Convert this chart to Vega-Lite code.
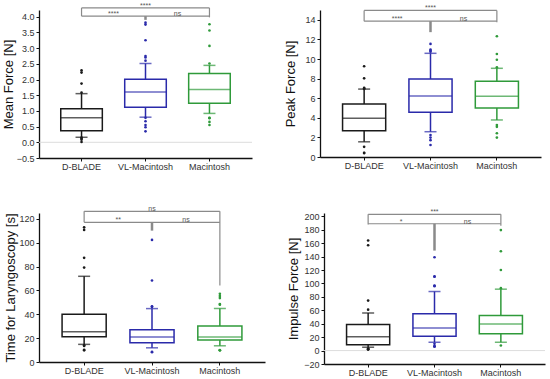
{
  "$schema": "https://vega.github.io/schema/vega-lite/v6.json",
  "padding": {"left": 2, "top": 1, "right": 2, "bottom": 2},
  "background": "white",
  "datasets": {
    "mean_box": [
      {"group": "D-BLADE", "wlo": 0.16, "q1": 0.37, "median": 0.78, "q3": 1.07, "whi": 1.55},
      {"group": "VL-Macintosh", "wlo": 0.80, "q1": 1.12, "median": 1.60, "q3": 2.01, "whi": 2.51},
      {"group": "Macintosh", "wlo": 0.92, "q1": 1.24, "median": 1.68, "q3": 2.19, "whi": 2.45}
    ],
    "mean_out": [
      {"group": "D-BLADE", "value": 2.29}, {"group": "D-BLADE", "value": 2.22}, {"group": "D-BLADE", "value": 1.87}, {"group": "D-BLADE", "value": 1.58},
      {"group": "D-BLADE", "value": 0.15}, {"group": "D-BLADE", "value": 0.12}, {"group": "D-BLADE", "value": 0.08}, {"group": "D-BLADE", "value": 0.01},
      {"group": "VL-Macintosh", "value": 3.81}, {"group": "VL-Macintosh", "value": 3.75}, {"group": "VL-Macintosh", "value": 3.25}, {"group": "VL-Macintosh", "value": 2.75},
      {"group": "VL-Macintosh", "value": 2.70}, {"group": "VL-Macintosh", "value": 2.60}, {"group": "VL-Macintosh", "value": 0.78}, {"group": "VL-Macintosh", "value": 0.67},
      {"group": "VL-Macintosh", "value": 0.55}, {"group": "VL-Macintosh", "value": 0.48}, {"group": "VL-Macintosh", "value": 0.35},
      {"group": "Macintosh", "value": 3.76}, {"group": "Macintosh", "value": 3.56}, {"group": "Macintosh", "value": 3.07}, {"group": "Macintosh", "value": 2.51},
      {"group": "Macintosh", "value": 0.78}, {"group": "Macintosh", "value": 0.77}, {"group": "Macintosh", "value": 0.65}, {"group": "Macintosh", "value": 0.55}
    ],
    "mean_br": [
      {"from": "D-BLADE", "to": "Macintosh", "lo": 4.28, "hi": 4.28, "part": "bar"},
      {"from": "D-BLADE", "to": "Macintosh", "lo": 4.02, "hi": 4.02, "part": "bar"},
      {"from": "D-BLADE", "to": "D-BLADE", "lo": 4.02, "hi": 4.28, "part": "bar"},
      {"from": "Macintosh", "to": "Macintosh", "lo": 3.98, "hi": 4.28, "part": "bar"},
      {"from": "VL-Macintosh", "to": "VL-Macintosh", "lo": 3.90, "hi": 4.02, "part": "drop"}
    ],
    "mean_sig": [
      {"label": "****", "at": "VL-Macintosh", "y": 4.28, "pos": "top"},
      {"label": "****", "at": "D-BLADE", "y": 4.02, "pos": "pair"},
      {"label": "ns", "at": "VL-Macintosh", "y": 4.02, "pos": "pair"}
    ],
    "peak_box": [
      {"group": "D-BLADE", "wlo": 1.55, "q1": 2.68, "median": 3.95, "q3": 5.42, "whi": 6.93},
      {"group": "VL-Macintosh", "wlo": 2.58, "q1": 4.56, "median": 6.23, "q3": 7.97, "whi": 10.58},
      {"group": "Macintosh", "wlo": 3.78, "q1": 5.0, "median": 6.2, "q3": 7.73, "whi": 9.05}
    ],
    "peak_out": [
      {"group": "D-BLADE", "value": 9.26}, {"group": "D-BLADE", "value": 8.03}, {"group": "D-BLADE", "value": 7.05}, {"group": "D-BLADE", "value": 6.95},
      {"group": "D-BLADE", "value": 7.0}, {"group": "D-BLADE", "value": 1.04}, {"group": "D-BLADE", "value": 0.42}, {"group": "D-BLADE", "value": 0.40},
      {"group": "VL-Macintosh", "value": 11.54}, {"group": "VL-Macintosh", "value": 10.95}, {"group": "VL-Macintosh", "value": 10.85}, {"group": "VL-Macintosh", "value": 10.75},
      {"group": "VL-Macintosh", "value": 2.25}, {"group": "VL-Macintosh", "value": 1.98}, {"group": "VL-Macintosh", "value": 1.72}, {"group": "VL-Macintosh", "value": 1.22},
      {"group": "Macintosh", "value": 12.32}, {"group": "Macintosh", "value": 10.51}, {"group": "Macintosh", "value": 9.92}, {"group": "Macintosh", "value": 9.15},
      {"group": "Macintosh", "value": 3.26}, {"group": "Macintosh", "value": 3.08}, {"group": "Macintosh", "value": 2.42}, {"group": "Macintosh", "value": 1.98}
    ],
    "peak_br": [
      {"from": "D-BLADE", "to": "Macintosh", "lo": 14.96, "hi": 14.96, "part": "bar"},
      {"from": "D-BLADE", "to": "Macintosh", "lo": 13.86, "hi": 13.86, "part": "bar"},
      {"from": "D-BLADE", "to": "D-BLADE", "lo": 13.86, "hi": 14.96, "part": "bar"},
      {"from": "Macintosh", "to": "Macintosh", "lo": 13.76, "hi": 14.96, "part": "bar"},
      {"from": "VL-Macintosh", "to": "VL-Macintosh", "lo": 12.74, "hi": 13.86, "part": "drop"}
    ],
    "peak_sig": [
      {"label": "****", "at": "VL-Macintosh", "y": 14.96, "pos": "top"},
      {"label": "****", "at": "D-BLADE", "y": 13.86, "pos": "pair"},
      {"label": "ns", "at": "VL-Macintosh", "y": 13.86, "pos": "pair"}
    ],
    "time_box": [
      {"group": "D-BLADE", "wlo": 14.8, "q1": 21.2, "median": 25.4, "q3": 40.0, "whi": 71.9},
      {"group": "VL-Macintosh", "wlo": 11.9, "q1": 16.1, "median": 20.9, "q3": 27.1, "whi": 44.8},
      {"group": "Macintosh", "wlo": 13.6, "q1": 18.4, "median": 21.0, "q3": 30.3, "whi": 44.9}
    ],
    "time_out": [
      {"group": "D-BLADE", "value": 113}, {"group": "D-BLADE", "value": 110.8}, {"group": "D-BLADE", "value": 87.4}, {"group": "D-BLADE", "value": 79.2},
      {"group": "D-BLADE", "value": 14.0}, {"group": "D-BLADE", "value": 13.5}, {"group": "D-BLADE", "value": 10.2}, {"group": "D-BLADE", "value": 9.8},
      {"group": "VL-Macintosh", "value": 102.4}, {"group": "VL-Macintosh", "value": 68.4}, {"group": "VL-Macintosh", "value": 46.8}, {"group": "VL-Macintosh", "value": 46.2},
      {"group": "VL-Macintosh", "value": 8.6}, {"group": "VL-Macintosh", "value": 8.2},
      {"group": "Macintosh", "value": 57.2}, {"group": "Macintosh", "value": 55.3}, {"group": "Macintosh", "value": 53.6}, {"group": "Macintosh", "value": 48.6},
      {"group": "Macintosh", "value": 48.1}, {"group": "Macintosh", "value": 10.0}, {"group": "Macintosh", "value": 9.9}, {"group": "Macintosh", "value": 9.8}
    ],
    "time_br": [
      {"from": "D-BLADE", "to": "Macintosh", "lo": 126.4, "hi": 126.4, "part": "bar"},
      {"from": "D-BLADE", "to": "Macintosh", "lo": 117.2, "hi": 117.2, "part": "bar"},
      {"from": "D-BLADE", "to": "D-BLADE", "lo": 117.2, "hi": 126.4, "part": "bar"},
      {"from": "Macintosh", "to": "Macintosh", "lo": 64.1, "hi": 126.4, "part": "bar"},
      {"from": "VL-Macintosh", "to": "VL-Macintosh", "lo": 110.2, "hi": 117.2, "part": "drop"}
    ],
    "time_sig": [
      {"label": "ns", "at": "VL-Macintosh", "y": 126.4, "pos": "top"},
      {"label": "**", "at": "D-BLADE", "y": 117.2, "pos": "pair"},
      {"label": "ns", "at": "VL-Macintosh", "y": 117.2, "pos": "pair"}
    ],
    "imp_box": [
      {"group": "D-BLADE", "wlo": 5, "q1": 8.5, "median": 20.6, "q3": 38.8, "whi": 56},
      {"group": "VL-Macintosh", "wlo": 12.4, "q1": 21.2, "median": 33.5, "q3": 54.8, "whi": 88},
      {"group": "Macintosh", "wlo": 12.4, "q1": 24.9, "median": 39.5, "q3": 52.3, "whi": 91.5}
    ],
    "imp_out": [
      {"group": "D-BLADE", "value": 164}, {"group": "D-BLADE", "value": 157}, {"group": "D-BLADE", "value": 74.5}, {"group": "D-BLADE", "value": 61},
      {"group": "D-BLADE", "value": 3.0}, {"group": "D-BLADE", "value": 2.5}, {"group": "D-BLADE", "value": 2.0}, {"group": "D-BLADE", "value": 1.5},
      {"group": "VL-Macintosh", "value": 139}, {"group": "VL-Macintosh", "value": 110.5}, {"group": "VL-Macintosh", "value": 110}, {"group": "VL-Macintosh", "value": 97},
      {"group": "VL-Macintosh", "value": 96}, {"group": "VL-Macintosh", "value": 10}, {"group": "VL-Macintosh", "value": 6.5}, {"group": "VL-Macintosh", "value": 6.2},
      {"group": "VL-Macintosh", "value": 6},
      {"group": "Macintosh", "value": 179.5}, {"group": "Macintosh", "value": 148}, {"group": "Macintosh", "value": 120}, {"group": "Macintosh", "value": 93},
      {"group": "Macintosh", "value": 7.5}
    ],
    "imp_br": [
      {"from": "D-BLADE", "to": "Macintosh", "lo": 203, "hi": 203, "part": "bar"},
      {"from": "D-BLADE", "to": "Macintosh", "lo": 189, "hi": 189, "part": "bar"},
      {"from": "D-BLADE", "to": "D-BLADE", "lo": 188, "hi": 203, "part": "bar"},
      {"from": "Macintosh", "to": "Macintosh", "lo": 186, "hi": 203, "part": "bar"},
      {"from": "VL-Macintosh", "to": "VL-Macintosh", "lo": 149, "hi": 189, "part": "drop"}
    ],
    "imp_sig": [
      {"label": "***", "at": "VL-Macintosh", "y": 203, "pos": "top"},
      {"label": "*", "at": "D-BLADE", "y": 189, "pos": "pair"},
      {"label": "ns", "at": "VL-Macintosh", "y": 189, "pos": "pair"}
    ],
    "zero": [{"z": 0}]
  },
  "config": {
    "view": {"stroke": null},
    "font": "Arial, Liberation Sans",
    "axis": {
      "labelFont": "Arial, Liberation Sans",
      "titleFont": "Arial, Liberation Sans",
      "labelColor": "#333333",
      "labelFontSize": 9,
      "titleFontSize": 13,
      "titleFontWeight": "normal",
      "titleColor": "#111111",
      "domainColor": "#111111",
      "domainWidth": 1.3,
      "tickColor": "#111111",
      "tickWidth": 1,
      "tickSize": 3,
      "grid": false,
      "labelPadding": 2,
      "labelOverlap": false
    },
    "axisX": {"labelAngle": 0, "labelPadding": 1},
    "scale": {"bandPaddingInner": 0.35, "bandPaddingOuter": 0.34},
    "text": {"font": "Arial, Liberation Sans"}
  },
  "vconcat": [
    {
      "hconcat": [
        {
          "width": 213, "height": 148,
          "layer": [
            {"data": {"name": "zero"}, "mark": {"type": "rule", "color": "#dddddd", "strokeWidth": 1}, "encoding": {"y": {"field": "z", "type": "quantitative", "scale": {"domain": [-0.5, 4.214], "nice": false, "zero": false}, "axis": {"title": "Mean Force [N]", "values": [-0.5, 0, 0.5, 1, 1.5, 2, 2.5, 3, 3.5, 4], "tickCount": 50, "format": ".1f", "titlePadding": 1, "labelOverlap": false}}}},
            {"data": {"name": "mean_box"}, "mark": {"type": "rule", "strokeWidth": 1.5}, "encoding": {"x": {"field": "group", "type": "nominal", "title": null, "scale": {"domain": ["D-BLADE", "VL-Macintosh", "Macintosh"]}}, "y": {"field": "wlo", "type": "quantitative"}, "y2": {"field": "whi"}, "color": {"field": "group", "type": "nominal", "scale": {"domain": ["D-BLADE", "VL-Macintosh", "Macintosh"], "range": ["#1a1a1a", "#2a2aaa", "#2f9a3a"]}, "legend": null}}},
            {"data": {"name": "mean_box"}, "mark": {"type": "bar", "fill": "white", "strokeWidth": 1.5}, "encoding": {"x": {"field": "group", "type": "nominal", "title": null}, "y": {"field": "q1", "type": "quantitative"}, "y2": {"field": "q3"}, "stroke": {"field": "group", "type": "nominal", "scale": {"domain": ["D-BLADE", "VL-Macintosh", "Macintosh"], "range": ["#1a1a1a", "#2a2aaa", "#2f9a3a"]}, "legend": null}}},
            {"data": {"name": "mean_box"}, "mark": {"type": "tick", "thickness": 1.5, "size": 42}, "encoding": {"x": {"field": "group", "type": "nominal", "title": null}, "y": {"field": "median", "type": "quantitative"}, "color": {"field": "group", "type": "nominal", "legend": null}}},
            {"data": {"name": "mean_box"}, "mark": {"type": "tick", "thickness": 1.5, "size": 12}, "encoding": {"x": {"field": "group", "type": "nominal", "title": null}, "y": {"field": "whi", "type": "quantitative"}, "color": {"field": "group", "type": "nominal", "legend": null}}},
            {"data": {"name": "mean_box"}, "mark": {"type": "tick", "thickness": 1.5, "size": 12}, "encoding": {"x": {"field": "group", "type": "nominal", "title": null}, "y": {"field": "wlo", "type": "quantitative"}, "color": {"field": "group", "type": "nominal", "legend": null}}},
            {"data": {"name": "mean_out"}, "mark": {"type": "circle", "size": 7, "opacity": 1}, "encoding": {"x": {"field": "group", "type": "nominal", "title": null}, "y": {"field": "value", "type": "quantitative"}, "color": {"field": "group", "type": "nominal", "legend": null}}},
            {"data": {"name": "mean_br"}, "mark": {"type": "rule", "color": "#8a8a8a"}, "encoding": {"x": {"field": "from", "type": "nominal", "title": null}, "x2": {"field": "to"}, "y": {"field": "lo", "type": "quantitative"}, "y2": {"field": "hi"}, "strokeWidth": {"field": "part", "type": "nominal", "scale": {"domain": ["bar", "drop"], "range": [1.2, 2.5]}, "legend": null}}},
            {"data": {"name": "mean_sig"}, "transform": [{"filter": "datum.pos === 'top'"}], "mark": {"type": "text", "fontSize": 7, "color": "#555555", "baseline": "alphabetic", "dy": 0}, "encoding": {"x": {"field": "at", "type": "nominal", "title": null}, "y": {"field": "y", "type": "quantitative"}, "text": {"field": "label"}}},
            {"data": {"name": "mean_sig"}, "transform": [{"filter": "datum.pos === 'pair'"}], "mark": {"type": "text", "fontSize": 7, "color": "#555555", "baseline": "alphabetic", "dy": 0, "dx": 32}, "encoding": {"x": {"field": "at", "type": "nominal", "title": null}, "y": {"field": "y", "type": "quantitative"}, "text": {"field": "label"}}}
          ]
        },
        {
          "width": 221, "height": 147,
          "layer": [
            {"data": {"name": "peak_box"}, "mark": {"type": "rule", "strokeWidth": 1.5}, "encoding": {"x": {"field": "group", "type": "nominal", "title": null, "scale": {"domain": ["D-BLADE", "VL-Macintosh", "Macintosh"]}}, "y": {"field": "wlo", "type": "quantitative", "scale": {"domain": [0, 15], "nice": false}, "axis": {"title": "Peak Force [N]", "values": [0, 2, 4, 6, 8, 10, 12, 14], "tickCount": 50, "format": "d", "titlePadding": 7, "labelOverlap": false}}, "y2": {"field": "whi"}, "color": {"field": "group", "type": "nominal", "scale": {"domain": ["D-BLADE", "VL-Macintosh", "Macintosh"], "range": ["#1a1a1a", "#2a2aaa", "#2f9a3a"]}, "legend": null}}},
            {"data": {"name": "peak_box"}, "mark": {"type": "bar", "fill": "white", "strokeWidth": 1.5}, "encoding": {"x": {"field": "group", "type": "nominal", "title": null}, "y": {"field": "q1", "type": "quantitative"}, "y2": {"field": "q3"}, "stroke": {"field": "group", "type": "nominal", "scale": {"domain": ["D-BLADE", "VL-Macintosh", "Macintosh"], "range": ["#1a1a1a", "#2a2aaa", "#2f9a3a"]}, "legend": null}}},
            {"data": {"name": "peak_box"}, "mark": {"type": "tick", "thickness": 1.5, "size": 43}, "encoding": {"x": {"field": "group", "type": "nominal", "title": null}, "y": {"field": "median", "type": "quantitative"}, "color": {"field": "group", "type": "nominal", "legend": null}}},
            {"data": {"name": "peak_box"}, "mark": {"type": "tick", "thickness": 1.5, "size": 12}, "encoding": {"x": {"field": "group", "type": "nominal", "title": null}, "y": {"field": "whi", "type": "quantitative"}, "color": {"field": "group", "type": "nominal", "legend": null}}},
            {"data": {"name": "peak_box"}, "mark": {"type": "tick", "thickness": 1.5, "size": 12}, "encoding": {"x": {"field": "group", "type": "nominal", "title": null}, "y": {"field": "wlo", "type": "quantitative"}, "color": {"field": "group", "type": "nominal", "legend": null}}},
            {"data": {"name": "peak_out"}, "mark": {"type": "circle", "size": 7, "opacity": 1}, "encoding": {"x": {"field": "group", "type": "nominal", "title": null}, "y": {"field": "value", "type": "quantitative"}, "color": {"field": "group", "type": "nominal", "legend": null}}},
            {"data": {"name": "peak_br"}, "mark": {"type": "rule", "color": "#8a8a8a"}, "encoding": {"x": {"field": "from", "type": "nominal", "title": null}, "x2": {"field": "to"}, "y": {"field": "lo", "type": "quantitative"}, "y2": {"field": "hi"}, "strokeWidth": {"field": "part", "type": "nominal", "scale": {"domain": ["bar", "drop"], "range": [1.2, 3.5]}, "legend": null}}},
            {"data": {"name": "peak_sig"}, "transform": [{"filter": "datum.pos === 'top'"}], "mark": {"type": "text", "fontSize": 7, "color": "#555555", "baseline": "alphabetic", "dy": 0}, "encoding": {"x": {"field": "at", "type": "nominal", "title": null}, "y": {"field": "y", "type": "quantitative"}, "text": {"field": "label"}}},
            {"data": {"name": "peak_sig"}, "transform": [{"filter": "datum.pos === 'pair'"}], "mark": {"type": "text", "fontSize": 7, "color": "#555555", "baseline": "alphabetic", "dy": 0, "dx": 33}, "encoding": {"x": {"field": "at", "type": "nominal", "title": null}, "y": {"field": "y", "type": "quantitative"}, "text": {"field": "label"}}}
          ]
        }
      ],
      "spacing": 31
    },
    {
      "hconcat": [
        {
          "width": 226, "height": 149,
          "layer": [
            {"data": {"name": "time_box"}, "mark": {"type": "rule", "strokeWidth": 1.5}, "encoding": {"x": {"field": "group", "type": "nominal", "title": null, "scale": {"domain": ["D-BLADE", "VL-Macintosh", "Macintosh"]}}, "y": {"field": "wlo", "type": "quantitative", "scale": {"domain": [0, 125], "nice": false}, "axis": {"title": "Time for Laryngoscopy [s]", "values": [0, 20, 40, 60, 80, 100, 120], "tickCount": 50, "format": "d", "titlePadding": 1, "labelOverlap": false}}, "y2": {"field": "whi"}, "color": {"field": "group", "type": "nominal", "scale": {"domain": ["D-BLADE", "VL-Macintosh", "Macintosh"], "range": ["#1a1a1a", "#2a2aaa", "#2f9a3a"]}, "legend": null}}},
            {"data": {"name": "time_box"}, "mark": {"type": "bar", "fill": "white", "strokeWidth": 1.5}, "encoding": {"x": {"field": "group", "type": "nominal", "title": null}, "y": {"field": "q1", "type": "quantitative"}, "y2": {"field": "q3"}, "stroke": {"field": "group", "type": "nominal", "scale": {"domain": ["D-BLADE", "VL-Macintosh", "Macintosh"], "range": ["#1a1a1a", "#2a2aaa", "#2f9a3a"]}, "legend": null}}},
            {"data": {"name": "time_box"}, "mark": {"type": "tick", "thickness": 1.5, "size": 44}, "encoding": {"x": {"field": "group", "type": "nominal", "title": null}, "y": {"field": "median", "type": "quantitative"}, "color": {"field": "group", "type": "nominal", "legend": null}}},
            {"data": {"name": "time_box"}, "mark": {"type": "tick", "thickness": 1.5, "size": 12}, "encoding": {"x": {"field": "group", "type": "nominal", "title": null}, "y": {"field": "whi", "type": "quantitative"}, "color": {"field": "group", "type": "nominal", "legend": null}}},
            {"data": {"name": "time_box"}, "mark": {"type": "tick", "thickness": 1.5, "size": 12}, "encoding": {"x": {"field": "group", "type": "nominal", "title": null}, "y": {"field": "wlo", "type": "quantitative"}, "color": {"field": "group", "type": "nominal", "legend": null}}},
            {"data": {"name": "time_out"}, "mark": {"type": "circle", "size": 7, "opacity": 1}, "encoding": {"x": {"field": "group", "type": "nominal", "title": null}, "y": {"field": "value", "type": "quantitative"}, "color": {"field": "group", "type": "nominal", "legend": null}}},
            {"data": {"name": "time_br"}, "mark": {"type": "rule", "color": "#8a8a8a"}, "encoding": {"x": {"field": "from", "type": "nominal", "title": null}, "x2": {"field": "to"}, "y": {"field": "lo", "type": "quantitative"}, "y2": {"field": "hi"}, "strokeWidth": {"field": "part", "type": "nominal", "scale": {"domain": ["bar", "drop"], "range": [1.2, 2.2]}, "legend": null}}},
            {"data": {"name": "time_sig"}, "transform": [{"filter": "datum.pos === 'top'"}], "mark": {"type": "text", "fontSize": 7, "color": "#555555", "baseline": "alphabetic", "dy": 0}, "encoding": {"x": {"field": "at", "type": "nominal", "title": null}, "y": {"field": "y", "type": "quantitative"}, "text": {"field": "label"}}},
            {"data": {"name": "time_sig"}, "transform": [{"filter": "datum.pos === 'pair'"}], "mark": {"type": "text", "fontSize": 7, "color": "#555555", "baseline": "alphabetic", "dy": 0, "dx": 34}, "encoding": {"x": {"field": "at", "type": "nominal", "title": null}, "y": {"field": "y", "type": "quantitative"}, "text": {"field": "label"}}}
          ]
        },
        {
          "width": 221, "height": 151,
          "layer": [
            {"data": {"name": "zero"}, "mark": {"type": "rule", "color": "#dddddd", "strokeWidth": 1}, "encoding": {"y": {"field": "z", "type": "quantitative", "scale": {"domain": [-20, 205], "nice": false, "zero": false}, "axis": {"title": "Impulse Force [N]", "values": [-20, 0, 20, 40, 60, 80, 100, 120, 140, 160, 180, 200], "tickCount": 50, "format": "d", "titlePadding": 3, "labelOverlap": false}}}},
            {"data": {"name": "imp_box"}, "mark": {"type": "rule", "strokeWidth": 1.5}, "encoding": {"x": {"field": "group", "type": "nominal", "title": null, "scale": {"domain": ["D-BLADE", "VL-Macintosh", "Macintosh"]}}, "y": {"field": "wlo", "type": "quantitative"}, "y2": {"field": "whi"}, "color": {"field": "group", "type": "nominal", "scale": {"domain": ["D-BLADE", "VL-Macintosh", "Macintosh"], "range": ["#1a1a1a", "#2a2aaa", "#2f9a3a"]}, "legend": null}}},
            {"data": {"name": "imp_box"}, "mark": {"type": "bar", "fill": "white", "strokeWidth": 1.5}, "encoding": {"x": {"field": "group", "type": "nominal", "title": null}, "y": {"field": "q1", "type": "quantitative"}, "y2": {"field": "q3"}, "stroke": {"field": "group", "type": "nominal", "scale": {"domain": ["D-BLADE", "VL-Macintosh", "Macintosh"], "range": ["#1a1a1a", "#2a2aaa", "#2f9a3a"]}, "legend": null}}},
            {"data": {"name": "imp_box"}, "mark": {"type": "tick", "thickness": 1.5, "size": 43}, "encoding": {"x": {"field": "group", "type": "nominal", "title": null}, "y": {"field": "median", "type": "quantitative"}, "color": {"field": "group", "type": "nominal", "legend": null}}},
            {"data": {"name": "imp_box"}, "mark": {"type": "tick", "thickness": 1.5, "size": 12}, "encoding": {"x": {"field": "group", "type": "nominal", "title": null}, "y": {"field": "whi", "type": "quantitative"}, "color": {"field": "group", "type": "nominal", "legend": null}}},
            {"data": {"name": "imp_box"}, "mark": {"type": "tick", "thickness": 1.5, "size": 12}, "encoding": {"x": {"field": "group", "type": "nominal", "title": null}, "y": {"field": "wlo", "type": "quantitative"}, "color": {"field": "group", "type": "nominal", "legend": null}}},
            {"data": {"name": "imp_out"}, "mark": {"type": "circle", "size": 7, "opacity": 1}, "encoding": {"x": {"field": "group", "type": "nominal", "title": null}, "y": {"field": "value", "type": "quantitative"}, "color": {"field": "group", "type": "nominal", "legend": null}}},
            {"data": {"name": "imp_br"}, "mark": {"type": "rule", "color": "#8a8a8a"}, "encoding": {"x": {"field": "from", "type": "nominal", "title": null}, "x2": {"field": "to"}, "y": {"field": "lo", "type": "quantitative"}, "y2": {"field": "hi"}, "strokeWidth": {"field": "part", "type": "nominal", "scale": {"domain": ["bar", "drop"], "range": [1.2, 3.5]}, "legend": null}}},
            {"data": {"name": "imp_sig"}, "transform": [{"filter": "datum.pos === 'top'"}], "mark": {"type": "text", "fontSize": 7, "color": "#555555", "baseline": "alphabetic", "dy": 0}, "encoding": {"x": {"field": "at", "type": "nominal", "title": null}, "y": {"field": "y", "type": "quantitative"}, "text": {"field": "label"}}},
            {"data": {"name": "imp_sig"}, "transform": [{"filter": "datum.pos === 'pair'"}], "mark": {"type": "text", "fontSize": 7, "color": "#555555", "baseline": "alphabetic", "dy": 0, "dx": 33}, "encoding": {"x": {"field": "at", "type": "nominal", "title": null}, "y": {"field": "y", "type": "quantitative"}, "text": {"field": "label"}}}
          ]
        }
      ],
      "spacing": 22
    }
  ],
  "spacing": 34,
  "resolve": {"scale": {"x": "independent", "y": "independent"}}
}
